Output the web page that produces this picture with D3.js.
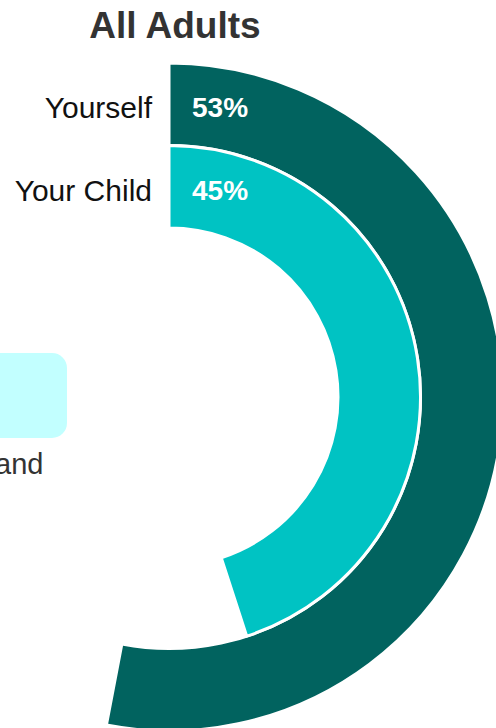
<!DOCTYPE html>
<html>
<head>
<meta charset="utf-8">
<script src="https://cdn.jsdelivr.net/npm/d3@7"></script>
<style>
html,body{margin:0;padding:0;background:#fff;overflow:hidden;}
svg{display:block;font-family:"Liberation Sans",Arial,sans-serif;}
</style>
</head>
<body>
<svg id="chart" width="496" height="728"></svg>
<script>
const title = "All Adults";
const categories = ["Yourself", "Your Child"];
const values = [53, 45];
const colors = ["#01635F", "#00C3C3"];
const legendText = ["and"];

const svg = d3.select("#chart");
const cx = 169, cy = 397;

// cut-off legend element from neighbouring panel
svg.append("rect").attr("x", -30).attr("y", 353).attr("width", 97).attr("height", 85)
  .attr("rx", 15).attr("fill", "#C2FFFF");
svg.append("text").attr("x", -5).attr("y", 474).attr("font-size", 29).attr("fill", "#333")
  .text(legendText[0]);

svg.append("text").attr("x", 175).attr("y", 38).attr("text-anchor", "middle")
  .attr("font-size", 37).attr("font-weight", "bold").attr("fill", "#333").text(title);

const angle = d3.scaleLinear().domain([0, 100]).range([0, 2 * Math.PI]);
const radius = d3.scaleBand().domain(categories).range([334, 169]).padding(0);

const g = svg.append("g").attr("transform", `translate(${cx},${cy})`);
const arc = d3.arc()
  .innerRadius(d => radius(d.cat))
  .outerRadius(d => radius(d.cat) + radius.bandwidth())
  .startAngle(0)
  .endAngle(d => angle(d.val));

const data = categories.map((c, i) => ({cat: c, val: values[i], color: colors[i]}));

g.selectAll("path.bar").data(data).join("path")
  .attr("class", "bar")
  .attr("d", arc)
  .attr("fill", d => d.color)
  .attr("stroke", "#fff").attr("stroke-width", 3);

g.selectAll("text.cat").data(data).join("text")
  .attr("class", "cat")
  .attr("x", -17)
  .attr("y", d => -(radius(d.cat) + radius.bandwidth() / 2) + 14)
  .attr("text-anchor", "end")
  .attr("font-size", 30).attr("fill", "#111")
  .text(d => d.cat);

g.selectAll("text.val").data(data).join("text")
  .attr("class", "val")
  .attr("x", 23)
  .attr("y", d => -(radius(d.cat) + radius.bandwidth() / 2) + 13)
  .attr("font-size", 28).attr("font-weight", "bold").attr("fill", "#fff")
  .text(d => d.val + "%");
</script>
</body>
</html>
